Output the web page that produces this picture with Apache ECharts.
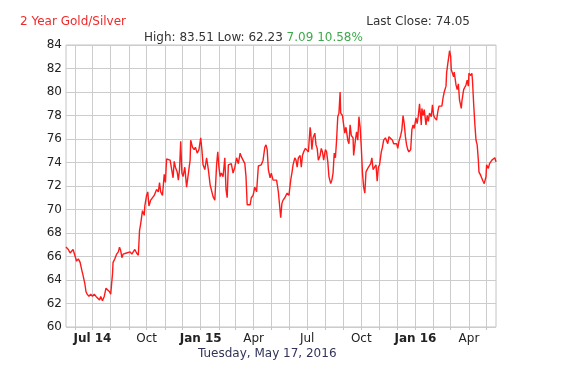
<!DOCTYPE html>
<html>
<head>
<meta charset="utf-8">
<script src="https://cdn.jsdelivr.net/npm/echarts@6/dist/echarts.min.js"></script>
<style>
html,body{margin:0;padding:0;background:#fff;}
#chart{width:571px;height:379px;}
</style>
</head>
<body>
<div id="chart"></div>
<script>
const dates = [
'2014-05-17','2014-05-21','2014-05-24','2014-05-27','2014-05-29','2014-06-01','2014-06-04','2014-06-07','2014-06-10','2014-06-13',
'2014-06-15','2014-06-18','2014-06-20','2014-06-22','2014-06-25','2014-06-28','2014-07-01','2014-07-04','2014-07-07','2014-07-10',
'2014-07-13','2014-07-15','2014-07-18','2014-07-21','2014-07-24','2014-07-27','2014-07-30','2014-08-01','2014-08-04','2014-08-05',
'2014-08-08','2014-08-11','2014-08-14','2014-08-16','2014-08-18','2014-08-20','2014-08-22','2014-08-25','2014-08-28','2014-08-31',
'2014-09-03','2014-09-06','2014-09-08','2014-09-11','2014-09-14','2014-09-17','2014-09-19','2014-09-21','2014-09-24','2014-09-27',
'2014-09-28','2014-10-01','2014-10-03','2014-10-05','2014-10-08','2014-10-11','2014-10-14','2014-10-18','2014-10-21','2014-10-23',
'2014-10-25','2014-10-28','2014-10-31','2014-11-02','2014-11-04','2014-11-07','2014-11-10','2014-11-13','2014-11-15','2014-11-17',
'2014-11-19','2014-11-22','2014-11-24','2014-11-26','2014-11-28','2014-11-30','2014-12-02','2014-12-05','2014-12-08','2014-12-11',
'2014-12-14','2014-12-15','2014-12-18','2014-12-21','2014-12-23','2014-12-26','2014-12-29','2015-01-01','2015-01-03','2015-01-05',
'2015-01-08','2015-01-11','2015-01-14','2015-01-17','2015-01-19','2015-01-22','2015-01-25','2015-01-28','2015-01-30','2015-02-01',
'2015-02-03','2015-02-05','2015-02-08','2015-02-11','2015-02-13','2015-02-15','2015-02-17','2015-02-20','2015-02-22','2015-02-25',
'2015-02-28','2015-03-03','2015-03-06','2015-03-09','2015-03-11','2015-03-14','2015-03-17','2015-03-19','2015-03-21','2015-03-23',
'2015-03-26','2015-03-28','2015-03-31','2015-04-03','2015-04-06','2015-04-09','2015-04-12','2015-04-14','2015-04-17','2015-04-20',
'2015-04-22','2015-04-24','2015-04-26','2015-04-29','2015-05-01','2015-05-04','2015-05-07','2015-05-10','2015-05-13','2015-05-15',
'2015-05-17','2015-05-19','2015-05-21','2015-05-24','2015-05-26','2015-05-28','2015-05-31','2015-06-03','2015-06-05','2015-06-07',
'2015-06-10','2015-06-12','2015-06-14','2015-06-16','2015-06-19','2015-06-21','2015-06-23','2015-06-25','2015-06-28','2015-06-30',
'2015-07-03','2015-07-06','2015-07-07','2015-07-09','2015-07-11','2015-07-14','2015-07-16','2015-07-18','2015-07-20','2015-07-23',
'2015-07-25','2015-07-27','2015-07-29','2015-08-01','2015-08-03','2015-08-05','2015-08-07','2015-08-10','2015-08-12','2015-08-14',
'2015-08-16','2015-08-18','2015-08-20','2015-08-22','2015-08-24','2015-08-26','2015-08-27','2015-08-30','2015-09-01','2015-09-03',
'2015-09-05','2015-09-08','2015-09-10','2015-09-12','2015-09-14','2015-09-17','2015-09-18','2015-09-21','2015-09-23','2015-09-25',
'2015-09-27','2015-09-29','2015-10-01','2015-10-03','2015-10-05','2015-10-07','2015-10-09','2015-10-12','2015-10-14','2015-10-17',
'2015-10-19','2015-10-21','2015-10-24','2015-10-26','2015-10-28','2015-10-30','2015-11-01','2015-11-04','2015-11-06','2015-11-08',
'2015-11-11','2015-11-13','2015-11-15','2015-11-17','2015-11-20','2015-11-23','2015-11-25','2015-11-28','2015-11-30','2015-12-02',
'2015-12-04','2015-12-07','2015-12-09','2015-12-11','2015-12-13','2015-12-15','2015-12-17','2015-12-19','2015-12-21','2015-12-24',
'2015-12-26','2015-12-28','2015-12-30','2016-01-02','2016-01-04','2016-01-06','2016-01-08','2016-01-11','2016-01-12','2016-01-14',
'2016-01-16','2016-01-19','2016-01-21','2016-01-23','2016-01-25','2016-01-28','2016-01-30','2016-02-01','2016-02-03','2016-02-06',
'2016-02-08','2016-02-10','2016-02-13','2016-02-15','2016-02-17','2016-02-19','2016-02-22','2016-02-23','2016-02-25','2016-02-27',
'2016-02-28','2016-03-01','2016-03-02','2016-03-04','2016-03-06','2016-03-07','2016-03-10','2016-03-12','2016-03-14','2016-03-16',
'2016-03-19','2016-03-20','2016-03-23','2016-03-25','2016-03-27','2016-03-29','2016-03-31','2016-04-01','2016-04-04','2016-04-06',
'2016-04-07','2016-04-09','2016-04-11','2016-04-13','2016-04-15','2016-04-17','2016-04-18','2016-04-21','2016-04-23','2016-04-25',
'2016-04-27','2016-04-30','2016-05-01','2016-05-04','2016-05-06','2016-05-08','2016-05-10','2016-05-13','2016-05-15','2016-05-17'
];
const values = [
66.8,66.6,66.3,66.2,66.6,66.1,65.6,65.8,65.5,64.8,
64.4,63.7,63.0,62.8,62.6,62.8,62.6,62.8,62.6,62.7,
62.3,62.6,62.23,62.6,63.3,63.4,63.0,62.8,64.5,65.5,
65.8,66.2,66.4,66.8,66.5,65.9,66.2,66.1,66.3,66.2,
66.4,66.2,66.1,66.6,66.3,66.1,68.2,68.8,69.9,69.5,
70.3,71.2,71.5,70.3,70.8,70.9,71.2,71.7,71.5,72.3,
71.5,71.2,73.0,72.3,74.3,74.4,74.2,74.3,72.7,74.1,
73.6,73.2,72.5,73.4,75.8,73.1,72.8,73.6,71.9,71.8,
74.2,75.9,75.3,75.1,75.3,74.8,75.1,76.1,75.1,73.8,
73.4,74.4,73.4,72.1,71.7,71.1,70.8,73.8,74.9,73.6,
72.8,73.1,72.8,74.4,71.7,71.0,73.8,73.9,73.9,73.1,
73.6,74.4,73.9,74.8,74.5,74.2,73.9,72.8,70.4,70.3,
70.4,71.0,71.2,71.9,71.5,73.7,73.8,73.8,74.2,75.3,
75.5,75.1,73.4,72.7,73.1,72.5,72.6,72.5,71.5,70.4,
69.3,70.5,70.8,71.0,71.2,71.4,71.2,72.5,73.1,73.8,
74.4,74.2,73.6,74.4,74.6,73.6,74.6,74.9,75.2,75.3,
74.9,77.0,76.6,75.1,76.1,76.5,75.5,75.2,74.2,74.6,
75.2,74.9,74.2,75.1,74.9,74.1,72.8,72.2,72.5,73.1,
74.8,74.4,75.9,77.9,78.2,80.0,78.2,78.0,77.2,76.5,
77.0,75.9,75.6,77.2,76.3,76.1,74.6,75.9,76.6,75.9,
77.9,77.0,75.3,73.1,71.9,71.4,73.2,73.5,73.4,73.9,
74.4,73.4,73.5,73.8,72.4,73.6,73.8,74.9,75.3,75.9,
76.1,76.2,75.6,76.2,76.1,75.9,75.6,75.5,75.6,75.2,
75.8,76.3,76.8,78.0,77.3,76.2,75.5,75.1,74.9,75.1,
76.8,77.2,76.9,77.8,77.3,78.0,79.0,77.2,78.6,78.0,
78.5,77.2,78.0,77.5,78.2,77.9,78.9,78.0,77.8,77.6,
78.3,78.8,78.9,78.8,79.5,80.0,80.5,81.6,82.4,83.1,
83.51,83.0,81.9,82.0,81.3,81.7,80.6,80.2,80.7,79.3,
78.6,79.2,80.2,80.3,80.6,81.0,80.5,81.6,81.4,81.6,
81.0,79.0,77.3,75.9,75.5,74.2,73.2,72.9,72.8,72.4,
72.2,72.8,73.8,73.5,73.9,73.8,74.2,74.1,74.4,74.05
];
const monthLines = [
'2014-06-01','2014-07-01','2014-08-01','2014-09-01','2014-10-01','2014-11-01','2014-12-01',
'2015-01-01','2015-02-01','2015-03-01','2015-04-01','2015-05-01','2015-06-01','2015-07-01',
'2015-08-01','2015-09-01','2015-10-01','2015-11-01','2015-12-01','2016-01-01','2016-02-01',
'2016-03-01','2016-04-01','2016-05-01'
];
const labelDates = ['2014-07-01','2014-10-01','2015-01-01','2015-04-01','2015-07-01','2015-10-01','2016-01-01','2016-04-01'];
const labelTexts = ['Jul 14','Oct','Jan 15','Apr','Jul','Oct','Jan 16','Apr'];
const yTicks = [60,62,64,66,68,70,72,74,76,78,80,82,84];
const rangeStart = '2014-05-17', rangeEnd = '2016-05-17';

function ts(s){const p=s.split('-').map(Number);return Date.UTC(p[0],p[1]-1,p[2]);}
const seriesData = dates.map((d,i)=>[ts(d),values[i]]);
const labelTs = labelDates.map(ts);
const monthTs = monthLines.map(ts);

const FONT = 'DejaVu Sans';
const chart = echarts.init(document.getElementById('chart'), null, {renderer:'canvas'});
chart.setOption({
  animation:false,
  backgroundColor:'#ffffff',
  title:[
    {text:'2 Year Gold/Silver',left:15,top:11,textStyle:{color:'#ee2a2a',fontFamily:FONT,fontSize:12,fontWeight:'normal'}},
    {text:'Last Close: 74.05',right:96,top:11,textStyle:{color:'#333333',fontFamily:FONT,fontSize:12,fontWeight:'normal'}},
    {text:'{d|High: 83.51 Low: 62.23} {g|7.09 10.58%}',left:139,top:27,
     textStyle:{fontWeight:'normal',fontFamily:FONT,fontSize:12,
       rich:{d:{color:'#333333',fontFamily:FONT,fontSize:12,fontWeight:'normal'},g:{color:'#3caa4c',fontFamily:FONT,fontSize:12,fontWeight:'normal'}}}},
    {text:'Tuesday, May 17, 2016',left:193,top:343,textStyle:{color:'#33335a',fontFamily:FONT,fontSize:12,fontWeight:'normal'}}
  ],
  grid:{left:66,right:75,top:45,bottom:52,show:true,borderColor:'#c4c4c4',borderWidth:1,backgroundColor:'#ffffff'},
  xAxis:{
    type:'value',min:ts(rangeStart),max:ts(rangeEnd),
    axisLine:{show:false},
    axisTick:{show:true,customValues:monthTs,length:3,lineStyle:{color:'#c4c4c4'}},
    axisLabel:{customValues:labelTs,margin:6,hideOverlap:false,
      formatter:function(v){const i=labelTs.indexOf(v);const t=i>=0?labelTexts[i]:'';return /\d/.test(t)?'{b|'+t+'}':'{n|'+t+'}';},
      rich:{b:{fontFamily:FONT,fontSize:12,fontWeight:'bold',color:'#222'},n:{fontFamily:FONT,fontSize:12,color:'#222'}}},
    splitLine:{show:true,lineStyle:{color:'#cccccc',width:1}}
  },
  yAxis:{
    type:'value',min:yTicks[0],max:yTicks[yTicks.length-1],interval:2,
    axisLine:{show:false},axisTick:{show:false},
    axisLabel:{margin:4,fontFamily:FONT,fontSize:12,color:'#222'},
    splitLine:{show:true,lineStyle:{color:'#cccccc',width:1}}
  },
  series:[{
    type:'line',data:seriesData,showSymbol:false,symbol:'none',
    lineStyle:{color:'#ff1a1a',width:1.4},z:3
  }]
});
</script>
</body>
</html>
